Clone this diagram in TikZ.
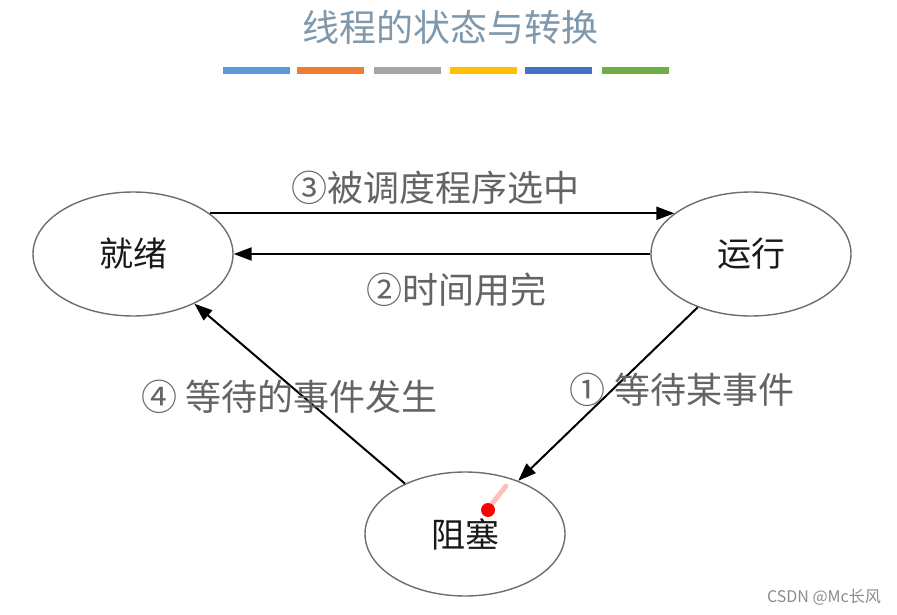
\documentclass[tikz,border=0pt]{standalone}
\usepackage{fontspec}
\setmainfont{Noto Sans CJK SC}
\newfontfamily\cjk{Noto Sans CJK SC}
\usetikzlibrary{shapes.geometric,arrows.meta}
\definecolor{titlecol}{RGB}{128,152,172}
\definecolor{labcol}{RGB}{100,100,100}
\definecolor{edgecol}{RGB}{110,110,110}
\definecolor{barA}{RGB}{91,155,213}
\definecolor{barB}{RGB}{237,125,49}
\definecolor{barC}{RGB}{165,165,165}
\definecolor{barD}{RGB}{255,192,0}
\definecolor{barE}{RGB}{68,114,196}
\definecolor{barF}{RGB}{112,173,71}
\tikzset{
  state/.style={ellipse,draw=edgecol,line width=1.4pt,minimum width=200pt,minimum height=124pt,inner sep=0pt,text=black!90,font=\cjk\fontsize{34}{40}\selectfont},
  trans/.style={draw=black,line width=2pt,-{Triangle[length=18pt,width=13pt]}},
  lab/.style={text=labcol,font=\cjk\fontsize{36}{40}\selectfont,inner sep=0pt},
  bar/.style={line width=7pt}
}
\begin{document}
\begin{tikzpicture}[x=1pt,y=-1pt]
\useasboundingbox (0,0) rectangle (897,615);
\fill[white] (0,0) rectangle (897,615);
% title
\node[text=titlecol,font=\cjk\fontsize{37}{42}\selectfont,inner sep=0pt] (title) at (450,27) {线程的状态与转换};
% colour bars
\draw[bar,barA] (223,71) -- (290,71);
\draw[bar,barB] (297,71) -- (364,71);
\draw[bar,barC] (374,71) -- (441,71);
\draw[bar,barD] (450,71) -- (517,71);
\draw[bar,barE] (525,71) -- (592,71);
\draw[bar,barF] (602,71) -- (669,71);
% states
\node[state] (ready) at (133,254) {就绪};
\node[state] (run) at (751,254) {运行};
\node[state] (block) at (465,534) {阻塞};
% transitions
\draw[trans] (ready.28) -- (run.152);
\draw[trans] (run.west) -- (ready.east);
\draw[trans] (run.-135.5) -- (block.45.5);
\draw[trans] (block.140.6) -- (ready.-39.6);
% labels
\node[lab] (l3) at (435,188) {③被调度程序选中};
\node[lab] (l2) at (456,290) {②时间用完};
\node[lab] (l4) at (290,397) {④ 等待的事件发生};
\node[lab] (l1) at (682,390) {① 等待某事件};
% pointer dot
\draw[red!25,line width=5pt,line cap=round] (491,505) -- (506,486);
\fill[red] (488,510) circle (7pt);
% watermark
\node[text=black!45,font=\cjk\fontsize{16}{18}\selectfont,anchor=east,inner sep=0pt] (wm) at (881,597) {CSDN @Mc长风};
\end{tikzpicture}
\end{document}
